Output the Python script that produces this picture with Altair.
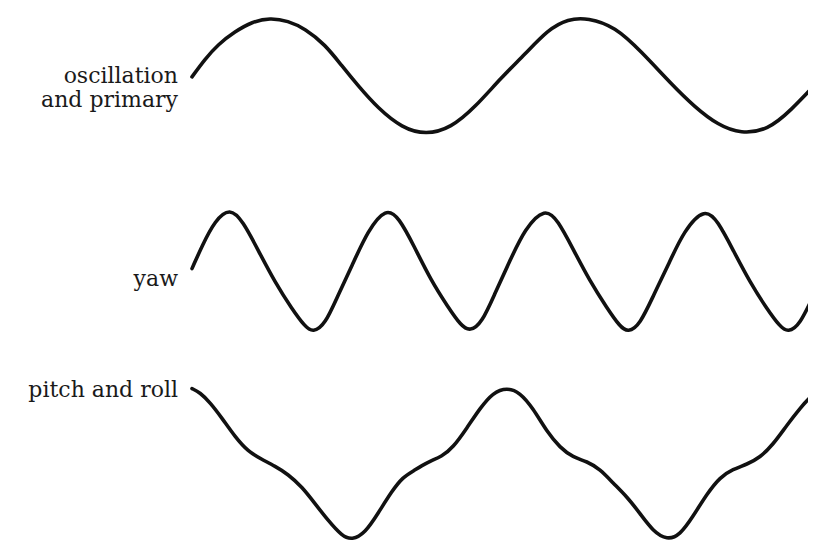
import altair as alt
import pandas as pd

# Curves (x, y in picture pixels; y grows downward)
primary_x = [192, 205, 218, 235, 252, 270, 288, 305, 325, 342, 358, 378, 402, 426,
             451, 475, 501, 525, 548, 568, 588, 615, 641, 671, 695, 718, 741, 768,
             791, 816, 830]
primary_y = [76, 58, 43, 30, 20, 16, 19, 27, 43, 65, 85, 108, 128, 135,
             128, 107, 77, 53, 28, 17, 16, 25, 50, 83, 107, 125, 134, 130,
             110, 83, 68]

yaw_x = [192, 202, 215, 230, 243, 258, 275, 292, 305, 313, 325, 338, 352, 368,
         386, 399, 414, 431, 448, 461, 470, 482, 495, 509, 525, 545, 558, 573,
         590, 607, 620, 628, 640, 654, 668, 684, 705, 718, 733, 750, 767, 780,
         788, 800, 814, 828]
yaw_y = [271, 248, 222, 209, 223, 252, 285, 312, 330, 336, 328, 298, 268, 232,
         209, 219, 248, 283, 310, 329, 335, 326, 296, 265, 230, 209, 222, 251,
         284, 311, 330, 336, 328, 297, 268, 232, 209, 223, 252, 285, 312, 330,
         336, 328, 297, 268]

pitch_x = [192, 200, 210, 222, 235, 248, 262, 275, 288, 302, 315, 328, 342, 352,
           365, 378, 392, 403, 413, 427, 442, 453, 467, 480, 493, 507, 520, 533,
           547, 560, 573, 587, 600, 613, 627, 640, 653, 667, 680, 693, 707, 720,
           733, 747, 760, 773, 787, 800, 813, 826]
pitch_y = [393, 397, 407, 423, 442, 457, 465, 472, 480, 493, 510, 527, 543, 547,
           540, 520, 497, 483, 477, 468, 462, 453, 433, 413, 397, 392, 397, 413,
           437, 453, 463, 467, 475, 489, 503, 520, 538, 547, 542, 523, 500, 483,
           475, 470, 463, 450, 430, 413, 398, 392]

series_names = ["primary", "yaw", "pitch"]
label_texts = ["oscillation\nand primary", "yaw", "pitch and roll"]

rows = []
for name, xs, ys in zip(series_names,
                        [primary_x, yaw_x, pitch_x],
                        [primary_y, yaw_y, pitch_y]):
    for i, (xv, yv) in enumerate(zip(xs, ys)):
        rows.append({"series": name, "x": xv, "y": yv, "i": i})
df = pd.DataFrame(rows)

label_df = pd.DataFrame({
    "series": series_names,
    "text": label_texts,
    "x": [primary_x[0], yaw_x[0], pitch_x[0]],
    "y": [primary_y[0], yaw_y[0], pitch_y[0]],
})

xenc = alt.X("x:Q", scale=alt.Scale(domain=[8, 808], nice=False, zero=False), axis=None)
yenc = alt.Y("y:Q", scale=alt.Scale(domain=[549, 6], nice=False, zero=False), axis=None)

lines = alt.Chart(df).mark_line(
    interpolate="basis", color="#111111", strokeWidth=3.6,
    strokeCap="round", strokeJoin="round", clip=True
).encode(x=xenc, y=yenc, detail="series:N", order="i:Q")

label_dy = {"primary": 6, "yaw": 17, "pitch": 8}
texts = []
for name in series_names:
    texts.append(
        alt.Chart(label_df).transform_filter(alt.datum.series == name).mark_text(
            align="right", baseline="alphabetic", dx=-14, dy=label_dy[name],
            font="DejaVu Serif", fontSize=22, lineHeight=24, lineBreak="\n",
            color="#1a1a1a"
        ).encode(x=xenc, y=yenc, text="text:N")
    )

chart = alt.layer(lines, *texts).properties(
    width=800, height=534, padding=0, background="white"
).configure_view(strokeWidth=0)

chart.save("out.html", embed_options={"renderer": "svg", "actions": False})
